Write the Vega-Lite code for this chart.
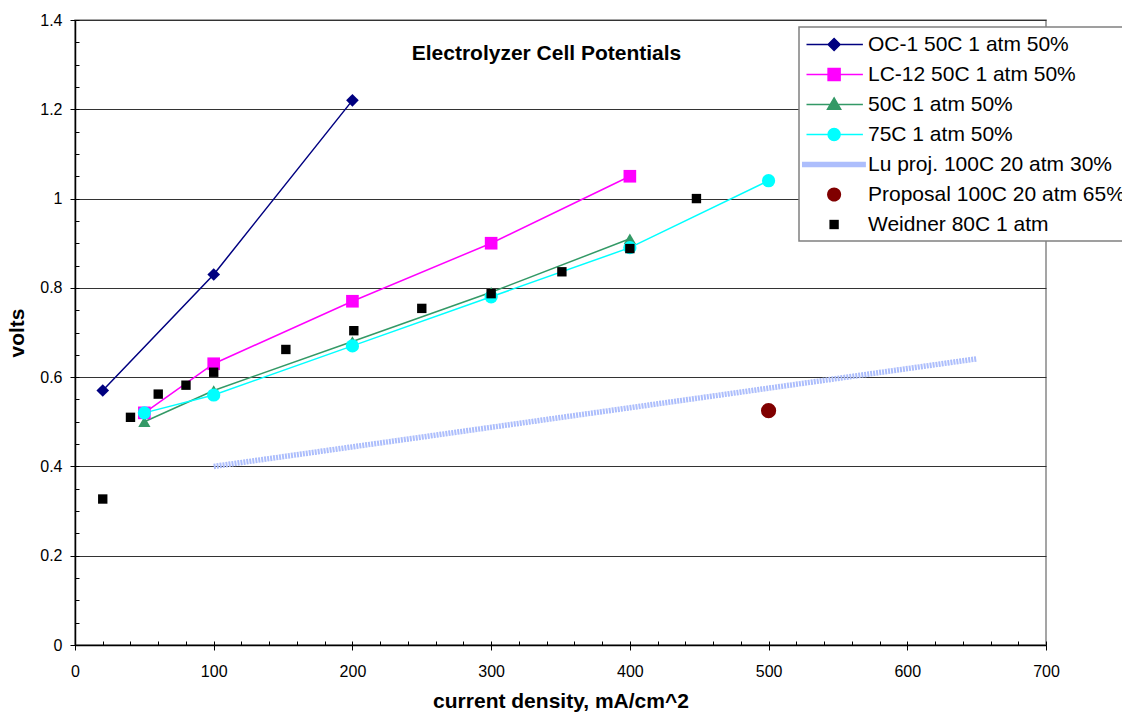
{
  "$schema": "https://vega.github.io/schema/vega-lite/v6.json",
  "width": 971,
  "height": 625,
  "autosize": {"type": "none"},
  "padding": {"left": 75, "top": 20, "right": 76, "bottom": 68},
  "background": "white",
  "config": {
    "view": {"stroke": "#888888", "strokeWidth": 1.5},
    "font": "Liberation Sans"
  },
  "title": {
    "text": "Electrolyzer Cell Potentials",
    "font": "Liberation Sans",
    "fontSize": 21,
    "fontWeight": "bold",
    "color": "black",
    "anchor": "middle",
    "dx": -14,
    "offset": -69,
    "baseline": "alphabetic"
  },
  "data": {
    "values": [
      {"series": "OC-1 50C 1 atm 50%", "x": 20, "v": 0.57},
      {"series": "OC-1 50C 1 atm 50%", "x": 100, "v": 0.83},
      {"series": "OC-1 50C 1 atm 50%", "x": 200, "v": 1.22},
      {"series": "LC-12 50C 1 atm 50%", "x": 50, "v": 0.52},
      {"series": "LC-12 50C 1 atm 50%", "x": 100, "v": 0.63},
      {"series": "LC-12 50C 1 atm 50%", "x": 200, "v": 0.77},
      {"series": "LC-12 50C 1 atm 50%", "x": 300, "v": 0.90},
      {"series": "LC-12 50C 1 atm 50%", "x": 400, "v": 1.05},
      {"series": "50C 1 atm 50%", "x": 50, "v": 0.50},
      {"series": "50C 1 atm 50%", "x": 100, "v": 0.57},
      {"series": "50C 1 atm 50%", "x": 200, "v": 0.68},
      {"series": "50C 1 atm 50%", "x": 300, "v": 0.79},
      {"series": "50C 1 atm 50%", "x": 400, "v": 0.91},
      {"series": "75C 1 atm 50%", "x": 50, "v": 0.52},
      {"series": "75C 1 atm 50%", "x": 100, "v": 0.56},
      {"series": "75C 1 atm 50%", "x": 200, "v": 0.67},
      {"series": "75C 1 atm 50%", "x": 300, "v": 0.78},
      {"series": "75C 1 atm 50%", "x": 400, "v": 0.89},
      {"series": "75C 1 atm 50%", "x": 500, "v": 1.04},
      {"series": "Lu proj. 100C 20 atm 30%", "x": 100, "v": 0.40},
      {"series": "Lu proj. 100C 20 atm 30%", "x": 650, "v": 0.641},
      {"series": "Proposal 100C 20 atm 65%", "x": 500, "v": 0.525},
      {"series": "Weidner 80C 1 atm", "x": 20, "v": 0.327},
      {"series": "Weidner 80C 1 atm", "x": 40, "v": 0.51},
      {"series": "Weidner 80C 1 atm", "x": 60, "v": 0.562},
      {"series": "Weidner 80C 1 atm", "x": 80, "v": 0.582},
      {"series": "Weidner 80C 1 atm", "x": 100, "v": 0.611},
      {"series": "Weidner 80C 1 atm", "x": 152, "v": 0.662},
      {"series": "Weidner 80C 1 atm", "x": 201, "v": 0.704},
      {"series": "Weidner 80C 1 atm", "x": 250, "v": 0.754},
      {"series": "Weidner 80C 1 atm", "x": 300, "v": 0.787},
      {"series": "Weidner 80C 1 atm", "x": 351, "v": 0.836},
      {"series": "Weidner 80C 1 atm", "x": 400, "v": 0.888},
      {"series": "Weidner 80C 1 atm", "x": 448, "v": 1.0}
    ]
  },
  "layer": [
    {
      "transform": [{"filter": "datum.series === 'Lu proj. 100C 20 atm 30%'"}],
      "mark": {"type": "line", "strokeWidth": 5.5, "strokeDash": [2, 1], "strokeCap": "butt"},
      "encoding": {
        "x": {
          "field": "x", "type": "quantitative",
          "scale": {"domain": [0, 700], "nice": false, "zero": false},
          "axis": {
            "orient": "bottom",
            "values": [0,20,40,60,80,100,120,140,160,180,200,220,240,260,280,300,320,340,360,380,400,420,440,460,480,500,520,540,560,580,600,620,640,660,680,700],
            "tickSize": -4, "tickColor": "black", "tickWidth": 1,
            "labels": false, "domain": false, "grid": false, "title": null
          }
        },
        "y": {
          "field": "v", "type": "quantitative",
          "scale": {"domain": [0, 1.4], "nice": false, "zero": false},
          "axis": {
            "orient": "left",
            "values": [0,0.05,0.1,0.15,0.2,0.25,0.3,0.35,0.4,0.45,0.5,0.55,0.6,0.65,0.7,0.75,0.8,0.85,0.9,0.95,1,1.05,1.1,1.15,1.2,1.25,1.3,1.35,1.4],
            "tickSize": -4, "tickColor": "black", "tickWidth": 1,
            "labels": false, "domain": false, "grid": false, "title": null
          }
        },
        "color": {
          "field": "series", "type": "nominal",
          "scale": {
            "domain": ["OC-1 50C 1 atm 50%", "LC-12 50C 1 atm 50%", "50C 1 atm 50%", "75C 1 atm 50%", "Lu proj. 100C 20 atm 30%", "Proposal 100C 20 atm 65%", "Weidner 80C 1 atm"],
            "range": ["#000080", "#ff00ff", "#339966", "#00ffff", "#adbefc", "#800000", "#000000"]
          },
          "legend": {
            "orient": "none",
            "legendX": 724,
            "legendY": 7,
            "title": null,
            "fillColor": "white",
            "strokeColor": "#808080",
            "padding": 6.5,
            "symbolSize": 144,
            "labelFont": "Liberation Sans",
            "labelFontSize": 21,
            "labelColor": "black",
            "labelLimit": 600,
            "rowPadding": 9,
            "encode": {
              "legend": {"update": {"strokeWidth": {"value": 1.5}}},
              "symbols": {
                "update": {
                  "x": {"value": 7},
                  "y": {"value": 11},
                  "shape": {"signal": "['M-1,0H8.4M2.6,0L3.6,-1L4.6,0L3.6,1Z','M-1,0H8.4M2.6,-1H4.6V1H2.6Z','M-1,0H8.4M3.6,-1.1L4.7,0.8H2.5Z','M-1,0H8.4M4.6,0A1,1,0,1,1,2.6,0A1,1,0,1,1,4.6,0Z','M-1.75,-0.47H8.9V0.47H-1.75Z','M4.77,0A1.17,1.17,0,1,1,2.43,0A1.17,1.17,0,1,1,4.77,0Z','M2.82,-0.78H4.38V0.78H2.82Z'][datum.index]"},
                  "fill": {"signal": "['#000080','#ff00ff','#339966','#00ffff','#b4c4fa','#800000','#000000'][datum.index]"},
                  "stroke": {"signal": "['#000080','#ff00ff','#339966','#00ffff','#b4c4fa','#800000','#000000'][datum.index]"},
                  "strokeWidth": {"signal": "[1.5,1.5,1.5,1.5,0,0,0][datum.index]"},
                  "size": {"value": 144},
                  "opacity": {"value": 1}
                }
              },
              "labels": {
                "update": {
                  "x": {"value": 62.5},
                  "y": {"value": 11},
                  "baseline": {"value": "middle"}
                }
              }
            }
          }
        }
      }
    },
    {
      "transform": [{"filter": "indexof(['OC-1 50C 1 atm 50%','LC-12 50C 1 atm 50%','50C 1 atm 50%','75C 1 atm 50%'], datum.series) >= 0"}],
      "mark": {"type": "line", "strokeWidth": 1.5},
      "encoding": {
        "x": {
          "field": "x", "type": "quantitative",
          "axis": {
            "orient": "bottom",
            "values": [0,100,200,300,400,500,600,700],
            "tickSize": 5, "tickColor": "black", "tickWidth": 1,
            "domainColor": "black", "domainWidth": 1.5,
            "labelFont": "Liberation Sans", "labelFontSize": 16, "labelColor": "black",
            "labelPadding": 13, "labelFlush": false, "labelOverlap": false,
            "grid": false,
            "title": "current density, mA/cm^2",
            "titleFont": "Liberation Sans", "titleFontSize": 21, "titleFontWeight": "bold", "titleColor": "black",
            "titlePadding": 11
          }
        },
        "y": {
          "field": "v", "type": "quantitative",
          "axis": {
            "orient": "left",
            "values": [0,0.2,0.4,0.6,0.8,1,1.2,1.4],
            "format": "~g",
            "tickSize": 5, "tickColor": "black", "tickWidth": 1,
            "domainColor": "black", "domainWidth": 1.5,
            "labelFont": "Liberation Sans", "labelFontSize": 16, "labelColor": "black",
            "labelPadding": 8, "labelFlush": false, "labelOverlap": false,
            "grid": true, "gridColor": "#333333", "gridWidth": 1.2,
            "title": "volts",
            "titleFont": "Liberation Sans", "titleFontSize": 21, "titleFontWeight": "bold", "titleColor": "black",
            "titlePadding": 12
          }
        },
        "color": {"field": "series", "type": "nominal", "legend": null},
        "detail": {"field": "series"},
        "order": {"field": "x"}
      }
    },
    {
      "transform": [{"filter": "datum.series === 'OC-1 50C 1 atm 50%'"}],
      "mark": {"type": "point", "filled": true, "opacity": 1, "strokeWidth": 0, "shape": "diamond", "size": 160},
      "encoding": {
        "x": {"field": "x", "type": "quantitative", "axis": null},
        "y": {"field": "v", "type": "quantitative", "axis": null},
        "color": {"field": "series", "type": "nominal", "legend": null}
      }
    },
    {
      "transform": [{"filter": "datum.series === 'LC-12 50C 1 atm 50%'"}],
      "mark": {"type": "point", "filled": true, "opacity": 1, "strokeWidth": 0, "shape": "square", "size": 160},
      "encoding": {
        "x": {"field": "x", "type": "quantitative", "axis": null},
        "y": {"field": "v", "type": "quantitative", "axis": null},
        "color": {"field": "series", "type": "nominal", "legend": null}
      }
    },
    {
      "transform": [{"filter": "datum.series === '50C 1 atm 50%'"}],
      "mark": {"type": "point", "filled": true, "opacity": 1, "strokeWidth": 0, "shape": "triangle-up", "size": 150},
      "encoding": {
        "x": {"field": "x", "type": "quantitative", "axis": null},
        "y": {"field": "v", "type": "quantitative", "axis": null},
        "color": {"field": "series", "type": "nominal", "legend": null}
      }
    },
    {
      "transform": [{"filter": "datum.series === '75C 1 atm 50%'"}],
      "mark": {"type": "point", "filled": true, "opacity": 1, "strokeWidth": 0, "shape": "circle", "size": 175},
      "encoding": {
        "x": {"field": "x", "type": "quantitative", "axis": null},
        "y": {"field": "v", "type": "quantitative", "axis": null},
        "color": {"field": "series", "type": "nominal", "legend": null}
      }
    },
    {
      "transform": [{"filter": "datum.series === 'Proposal 100C 20 atm 65%'"}],
      "mark": {"type": "point", "filled": true, "opacity": 1, "strokeWidth": 0, "shape": "circle", "size": 230},
      "encoding": {
        "x": {"field": "x", "type": "quantitative", "axis": null},
        "y": {"field": "v", "type": "quantitative", "axis": null},
        "color": {"field": "series", "type": "nominal", "legend": null}
      }
    },
    {
      "transform": [{"filter": "datum.series === 'Weidner 80C 1 atm'"}],
      "mark": {"type": "point", "filled": true, "opacity": 1, "strokeWidth": 0, "shape": "square", "size": 88},
      "encoding": {
        "x": {"field": "x", "type": "quantitative", "axis": null},
        "y": {"field": "v", "type": "quantitative", "axis": null},
        "color": {"field": "series", "type": "nominal", "legend": null}
      }
    }
  ],
  "resolve": {"axis": {"x": "independent", "y": "independent"}}
}
